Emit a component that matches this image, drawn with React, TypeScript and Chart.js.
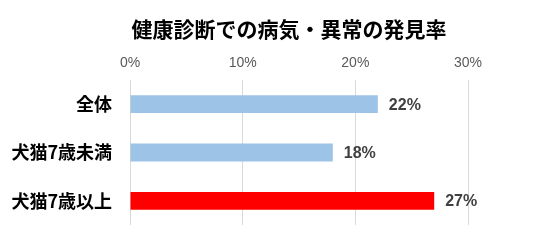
import React, { useEffect, useRef } from "react";
import { Chart, registerables } from "chart.js";

Chart.register(...registerables);

const titleText = "健康診断での病気・異常の発見率";
const categories = ["全体", "犬猫7歳未満", "犬猫7歳以上"];
const values = [22, 18, 27];
const barColors = ["#9dc3e6", "#9dc3e6", "#ff0000"];
const xTicks = [0, 10, 20, 30];

const valueLabels = {
  id: "valueLabels",
  afterDatasetsDraw(chart: any) {
    const ctx = chart.ctx;
    const meta = chart.getDatasetMeta(0);
    ctx.save();
    ctx.font = "bold 16px 'Liberation Sans', Arial, sans-serif";
    ctx.fillStyle = "#404040";
    ctx.textAlign = "left";
    ctx.textBaseline = "middle";
    meta.data.forEach((bar: any, i: number) => {
      ctx.fillText(values[i] + "%", bar.x + 11, bar.y + 1);
    });
    ctx.restore();
  },
};

const customTitle = {
  id: "customTitle",
  afterDraw(chart: any) {
    const ctx = chart.ctx;
    ctx.save();
    ctx.font = "bold 21px 'Noto Sans CJK JP'";
    ctx.fillStyle = "#000000";
    ctx.textAlign = "center";
    ctx.textBaseline = "middle";
    ctx.fillText(titleText, 289, 29);
    ctx.restore();
  },
};

export default function App() {
  const ref = useRef<HTMLCanvasElement | null>(null);
  useEffect(() => {
    document.body.style.margin = "0";
    const chart = new Chart(ref.current as HTMLCanvasElement, {
      type: "bar",
      data: {
        labels: categories,
        datasets: [
          {
            data: values,
            backgroundColor: barColors,
            borderWidth: 0,
            barPercentage: 0.9,
            categoryPercentage: 0.41,
          },
        ],
      },
      options: {
        indexAxis: "y",
        animation: false,
        responsive: false,
        maintainAspectRatio: false,
        layout: { padding: { left: 0, right: 79, top: 41, bottom: 18 } },
        plugins: {
          legend: { display: false },
          tooltip: { enabled: false },
          title: { display: false },
        },
        scales: {
          x: {
            position: "top",
            min: 0,
            max: 30,
            afterBuildTicks: (scale: any) => {
              scale.ticks = xTicks.map((v) => ({ value: v }));
            },
            afterFit: (scale: any) => {
              scale.height = 39;
              scale.paddingLeft = 0;
              scale.paddingRight = 0;
            },
            ticks: {
              callback: (v: any) => v + "%",
              color: "#595959",
              font: { family: "'Liberation Sans', Arial, sans-serif", size: 14 },
              padding: 8,
            },
            grid: { color: "#d9d9d9", lineWidth: 1, drawTicks: false },
            border: { display: false },
          },
          y: {
            afterFit: (scale: any) => {
              scale.width = 130;
              scale.paddingTop = 0;
              scale.paddingBottom = 0;
            },
            ticks: {
              color: "#000000",
              font: { family: "'Noto Sans CJK JP'", size: 18, weight: "bold" },
              padding: 18,
            },
            grid: { display: false, drawTicks: false },
            border: { display: false },
          },
        },
      },
      plugins: [valueLabels, customTitle],
    });
    return () => chart.destroy();
  }, []);
  return (
    <div style={{ width: 547, height: 243 }}>
      <canvas ref={ref} width={547} height={243} style={{ display: "block" }} />
    </div>
  );
}
